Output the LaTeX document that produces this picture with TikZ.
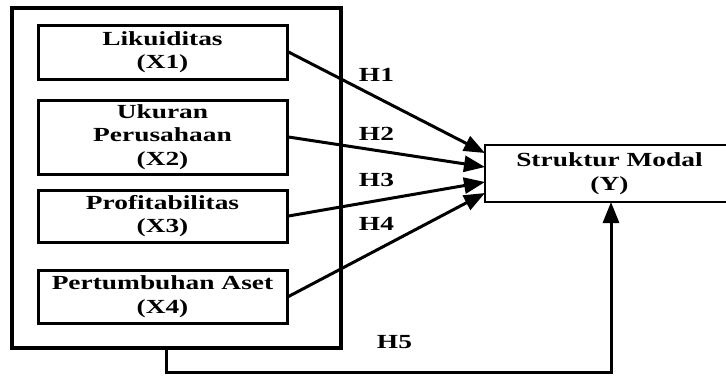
\documentclass[tikz,border=0pt]{standalone}
\usepackage{fontspec}
\setmainfont{Liberation Serif}[FakeStretch=1.37]
\usetikzlibrary{arrows.meta}
\tikzset{
  varbox/.style={draw,line width=3pt,minimum width=249pt,inner sep=0pt,align=center,font=\bfseries\fontsize{20}{23.5}\selectfont},
  hlabel/.style={font=\bfseries\fontsize{20}{23.5}\selectfont,inner sep=0pt},
  harrow/.style={line width=3pt,-{Triangle[length=21pt,width=16pt]}}
}
\begin{document}
\begin{tikzpicture}[x=1pt,y=-1pt]
                        \useasboundingbox (0,0) rectangle (726,376);
                        % independent variables
                        \draw[line width=3.5pt] (12,8) rectangle (341,348);
                        \node[varbox,minimum height=54pt] (x1) at (162.5,52) {Likuiditas\\(X1)};
                        \node[varbox,minimum height=74pt] (x2) at (162.5,137) {Ukuran\\Perusahaan\\(X2)};
                        \node[varbox,minimum height=52pt] (x3) at (162.5,216) {Profitabilitas\\(X3)};
                        \node[varbox,minimum height=53pt] (x4) at (162.5,296.5) {Pertumbuhan Aset\\(X4)};
                        % dependent variable
                        \node[varbox,line width=2.6pt,minimum height=57pt] (y) at (609.5,173.5) {Struktur Modal\\(Y)};

                        \coordinate (y1) at (485,153);
                        \coordinate (y2) at (485,167);
                        \coordinate (y3) at (485,182);
                        \coordinate (y4) at (485,193);
                        \draw[harrow] (x1.east) -- (y1);
                        \draw[harrow] (x2.east) -- (y2);
                        \draw[harrow] (x3.east) -- (y3);
                        \draw[harrow] (x4.east) -- (y4);

                        \node[hlabel] (h1) at (376.5,75) {H1};
                        \node[hlabel] (h2) at (376.5,134) {H2};
                        \node[hlabel] (h3) at (376.5,180) {H3};
                        \node[hlabel] (h4) at (376.5,224) {H4};
                        \node[hlabel] (h5) at (394.5,342) {H5};

                        % simultaneous effect
                        \coordinate (b) at (166,348);
                        \draw[harrow] (b) -- (166,372) -- (611,372) -- (611,202);
                    \end{tikzpicture}
\end{document}
